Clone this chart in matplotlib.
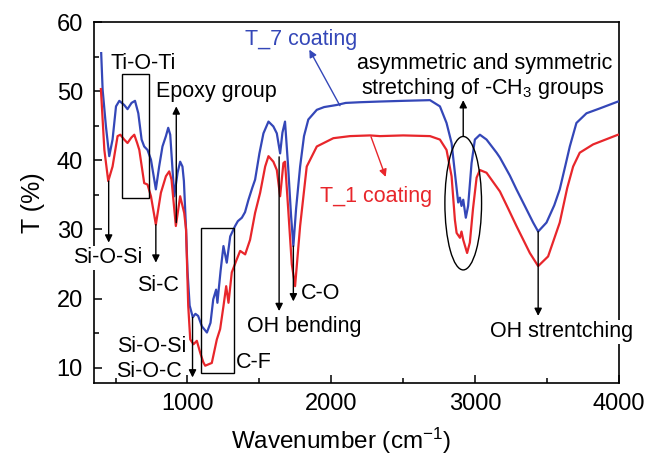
import matplotlib
matplotlib.use("Agg")
import matplotlib.pyplot as plt
from matplotlib.patches import Rectangle, Ellipse

plt.rcParams['font.family'] = ['Liberation Sans', 'DejaVu Sans']
plt.rcParams['mathtext.fontset'] = 'custom'
plt.rcParams['mathtext.rm'] = 'Liberation Sans'
plt.rcParams['mathtext.it'] = 'Liberation Sans'

# ---- data ----
wn_t7 = [400, 410, 433, 456, 479, 503, 526, 560, 583, 611, 635, 658, 681, 699, 722, 746, 780, 803, 826,
         850, 866, 880, 908, 931, 949, 965, 975, 990, 1000, 1015, 1037, 1055, 1074, 1100, 1135, 1160,
         1179, 1199, 1208, 1230, 1250, 1273, 1297, 1331, 1350, 1378, 1400, 1424, 1450, 1470, 1500, 1528,
         1563, 1597, 1621, 1644, 1660, 1678, 1700, 1720, 1736, 1755, 1783, 1810, 1840, 1899, 1950, 2037,
         2100, 2200, 2337, 2500, 2686, 2755, 2801, 2836, 2859, 2882, 2894, 2905, 2917, 2935, 2951, 2975,
         2998, 3033, 3079, 3149, 3172, 3241, 3287, 3350, 3403, 3438, 3496, 3550, 3588, 3630, 3658, 3704,
         3774, 3866, 3993, 4000]
t7 = [55.5, 50.2, 44.9, 40.6, 43.0, 47.8, 48.6, 48.0, 47.4, 48.3, 48.6, 46.8, 43.0, 42.0, 41.5, 40.1,
      35.8, 39.1, 42.0, 43.5, 44.7, 43.7, 34.8, 38.2, 39.8, 39.1, 37.0, 30.0, 24.0, 19.0, 17.3, 17.8, 17.5,
      16.0, 15.1, 16.5, 19.9, 21.3, 19.4, 24.0, 27.6, 25.2, 29.0, 30.5, 31.2, 31.7, 32.5, 34.3, 36.0, 37.2,
      41.0, 43.9, 45.6, 44.9, 43.9, 41.0, 44.0, 45.6, 39.0, 32.0, 27.6, 33.0, 39.1, 43.5, 45.9, 47.3, 47.7,
      48.0, 48.3, 48.4, 48.5, 48.6, 48.7, 47.8, 45.4, 42.5, 38.2, 33.9, 34.6, 33.4, 34.3, 31.7, 33.4, 39.6,
      43.0, 43.7, 43.0, 41.1, 40.4, 37.8, 35.8, 33.2, 31.0, 29.7, 31.0, 33.5, 35.8, 39.5, 42.0, 45.4,
      46.8, 47.5, 48.5, 48.5]

wn_t1 = [398, 422, 449, 479, 514, 533, 560, 583, 610, 630, 650, 665, 699, 722, 746, 780, 815, 850, 873,
         889, 919, 949, 977, 990, 1005, 1019, 1042, 1065, 1088, 1110, 1123, 1169, 1204, 1227, 1250, 1269,
         1285, 1308, 1343, 1366, 1401, 1435, 1470, 1505, 1540, 1563, 1597, 1621, 1644, 1667, 1678, 1700,
         1725, 1748, 1783, 1829, 1899, 2014, 2130, 2269, 2338, 2500, 2686, 2755, 2801, 2836, 2859, 2871,
         2894, 2905, 2917, 2944, 2963, 2985, 3010, 3033, 3079, 3172, 3230, 3287, 3380, 3438, 3507, 3588,
         3640, 3681, 3727, 3820, 3993, 4000]
t1 = [50.3, 41.5, 37.0, 39.1, 43.5, 43.7, 43.0, 42.5, 43.3, 43.7, 42.5, 41.5, 36.7, 36.5, 34.8, 30.7,
      35.3, 37.7, 38.4, 37.2, 30.5, 34.8, 32.4, 30.0, 19.0, 14.1, 13.4, 13.9, 12.2, 10.8, 10.3, 10.7, 14.1,
      15.6, 18.9, 21.8, 19.4, 23.8, 25.7, 26.9, 26.4, 28.5, 32.4, 35.3, 39.1, 40.6, 39.8, 38.6, 34.8, 39.6,
      39.8, 33.0, 25.0, 21.8, 30.5, 39.1, 42.0, 43.2, 43.5, 43.6, 43.5, 43.6, 43.5, 43.0, 41.5, 37.7, 31.4,
      29.5, 28.8, 29.7, 28.5, 26.6, 28.1, 33.0, 37.5, 38.6, 38.2, 35.5, 33.0, 30.5, 26.6, 24.7, 26.1, 31.0,
      36.0, 39.1, 41.1, 42.3, 43.7, 43.7]

x_ticks = [1000, 2000, 3000, 4000]
y_ticks = [10, 20, 30, 40, 50, 60]

BLUE = '#3447b8'
RED = '#e8262b'

fig = plt.figure(figsize=(6.64, 4.65), dpi=100)
ax = fig.add_axes([94/664, 1-383/465, (619-94)/664, (383-22)/465])

ax.plot(wn_t7, t7, color=BLUE, lw=1.6, zorder=3)
ax.plot(wn_t1, t1, color=RED, lw=1.6, zorder=3)

ax.set_xlim(350, 4000)
ax.set_ylim(7.8, 60)
ax.set_xticks(x_ticks)
ax.set_yticks(y_ticks)
ax.set_xticks([500, 1500, 2500, 3500], minor=True)
ax.set_yticks([15, 25, 35, 45, 55], minor=True)
ax.tick_params(which='both', direction='in', labelsize=17, width=1.1)
ax.tick_params(which='major', length=6)
ax.tick_params(which='minor', length=3.5)
ax.tick_params(axis='y', pad=8)
ax.tick_params(axis='x', pad=7)
for s in ax.spines.values():
    s.set_linewidth(1.2)

ax.set_xlabel('Wavenumber (cm$^{-1}$)', fontsize=17.5)
ax.xaxis.set_label_coords(0.47, -0.118)
ax.set_ylabel('T (%)', fontsize=18, labelpad=8)

fs = 15.5
ap = dict(arrowstyle='-|>', color='k', lw=1.0, mutation_scale=11, shrinkA=0, shrinkB=0)
wb = dict(facecolor='white', edgecolor='none', pad=1)

# series labels
ax.text(1793, 57.5, 'T_7 coating', color=BLUE, fontsize=fs, ha='center', va='center')
ax.annotate('', xy=(1847, 56.0), xytext=(2060, 47.9),
            arrowprops=dict(ap, color=BLUE))
ax.text(2314, 34.7, 'T_1 coating', color=RED, fontsize=fs, ha='center', va='center')
ax.annotate('', xy=(2378, 37.6), xytext=(2276, 43.4),
            arrowprops=dict(ap, color=RED))

# Ti-O-Ti
ax.text(465, 54.0, 'Ti-O-Ti', fontsize=fs, ha='left', va='center')
ax.add_patch(Rectangle((544, 34.6), 729-544, 52.5-34.6, fill=False, ec='k', lw=1.0, zorder=4))

# Epoxy group
ax.text(780, 50.0, 'Epoxy group', fontsize=fs, ha='left', va='center')
ax.annotate('', xy=(922, 47.8), xytext=(922, 31.0), arrowprops=ap)

# Si-O-Si (left)
ax.annotate('', xy=(452, 28.1), xytext=(452, 37.0), arrowprops=ap)
ax.text(447, 25.9, 'Si-O-Si', fontsize=fs, ha='center', va='center', bbox=wb, zorder=5)

# Si-C
ax.annotate('', xy=(780, 25.2), xytext=(780, 30.7), arrowprops=ap)
ax.text(797, 21.9, 'Si-C', fontsize=fs, ha='center', va='center')

# Si-O-Si / Si-O-C
ax.text(996, 13.1, 'Si-O-Si', fontsize=fs, ha='right', va='center')
ax.text(962, 9.5, 'Si-O-C', fontsize=fs, ha='right', va='center')
ax.annotate('', xy=(1035, 8.6), xytext=(1035, 17.3), arrowprops=ap)

# C-F
ax.add_patch(Rectangle((1095, 9.3), 1325-1095, 30.2-9.3, fill=False, ec='k', lw=1.0, zorder=4))
ax.text(1336, 10.75, 'C-F', fontsize=fs, ha='left', va='center')

# OH bending
ax.annotate('', xy=(1637, 18.2), xytext=(1637, 40.5), arrowprops=ap)
ax.text(1417, 16.0, 'OH bending', fontsize=fs, ha='left', va='center')

# C-O
ax.annotate('', xy=(1736, 19.6), xytext=(1736, 27.6), arrowprops=ap)
ax.text(1788, 20.7, 'C-O', fontsize=fs, ha='left', va='center')

# CH3 stretching
ax.text(3067, 54.0, 'asymmetric and symmetric', fontsize=fs, ha='center', va='center')
ax.text(3050, 50.4, 'stretching of -CH$_3$ groups', fontsize=fs, ha='center', va='center')
ax.add_patch(Ellipse((2917, 33.8), 255, 19.3, fill=False, ec='k', lw=1.0, zorder=4))
ax.annotate('', xy=(2917, 48.7), xytext=(2917, 43.45), arrowprops=ap)

# OH stretching
ax.annotate('', xy=(3438, 17.5), xytext=(3438, 29.7), arrowprops=ap)
ax.text(3600, 15.2, 'OH strentching', fontsize=fs, ha='center', va='center', bbox=wb, zorder=5)

fig.savefig('out.png', dpi=100)
